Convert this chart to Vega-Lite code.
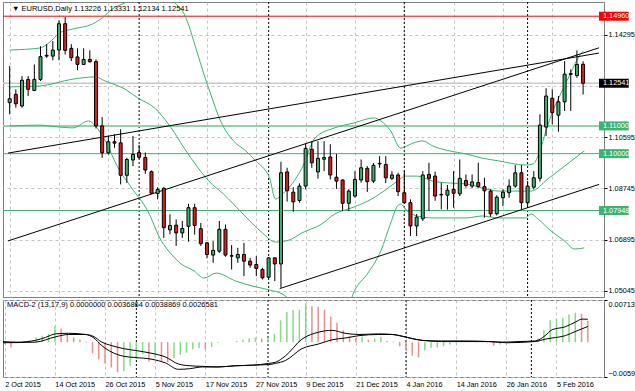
{
  "$schema": "https://vega.github.io/schema/vega-lite/v6.json",
  "background": "white",
  "padding": {"left": 0, "top": 1, "right": 0, "bottom": 0},
  "spacing": 1,
  "config": {
    "view": {"stroke": "#808080", "strokeWidth": 1},
    "font": "Liberation Sans",
    "axis": {"labelFont": "Liberation Sans", "labelFontSize": 7.3, "labelColor": "#000000", "gridColor": "#c4c4c4", "gridDash": [3, 3], "gridWidth": 1, "tickColor": "#000000", "title": null}
  },
  "datasets": {
    "candles": [
      {"i":0,"o":1.1184,"h":1.1316,"l":1.1142,"c":1.1198},
      {"i":1,"o":1.1214,"h":1.1232,"l":1.1166,"c":1.1180},
      {"i":2,"o":1.1172,"h":1.1280,"l":1.1166,"c":1.1265},
      {"i":3,"o":1.1268,"h":1.1280,"l":1.1208,"c":1.1232},
      {"i":4,"o":1.1228,"h":1.1322,"l":1.1226,"c":1.1268},
      {"i":5,"o":1.1268,"h":1.1388,"l":1.1262,"c":1.1350},
      {"i":6,"o":1.1352,"h":1.1395,"l":1.1346,"c":1.1355},
      {"i":7,"o":1.1352,"h":1.1406,"l":1.1337,"c":1.1374},
      {"i":8,"o":1.1374,"h":1.1481,"l":1.1337,"c":1.1469},
      {"i":9,"o":1.1469,"h":1.1493,"l":1.1358,"c":1.1373},
      {"i":10,"o":1.1380,"h":1.1395,"l":1.1334,"c":1.1346},
      {"i":11,"o":1.1349,"h":1.1380,"l":1.1301,"c":1.1322},
      {"i":12,"o":1.1322,"h":1.1380,"l":1.1320,"c":1.1340},
      {"i":13,"o":1.1340,"h":1.1373,"l":1.1328,"c":1.1332},
      {"i":14,"o":1.1332,"h":1.1340,"l":1.1091,"c":1.1100},
      {"i":15,"o":1.1100,"h":1.1132,"l":1.0985,"c":1.1003},
      {"i":16,"o":1.1003,"h":1.1064,"l":1.0997,"c":1.1043},
      {"i":17,"o":1.1043,"h":1.1070,"l":1.1021,"c":1.1038},
      {"i":18,"o":1.1039,"h":1.1088,"l":1.0889,"c":1.0922},
      {"i":19,"o":1.0922,"h":1.0985,"l":1.0895,"c":1.0979},
      {"i":20,"o":1.0977,"h":1.1064,"l":1.0955,"c":1.0997},
      {"i":21,"o":1.1004,"h":1.1032,"l":1.0982,"c":1.0987},
      {"i":22,"o":1.0986,"h":1.1004,"l":1.0927,"c":1.0941},
      {"i":23,"o":1.0935,"h":1.0939,"l":1.0856,"c":1.0857},
      {"i":24,"o":1.0856,"h":1.0879,"l":1.0835,"c":1.0871},
      {"i":25,"o":1.0875,"h":1.0879,"l":1.0696,"c":1.0733},
      {"i":26,"o":1.0725,"h":1.0781,"l":1.0709,"c":1.0741},
      {"i":27,"o":1.0742,"h":1.0763,"l":1.0667,"c":1.0714},
      {"i":28,"o":1.0714,"h":1.0757,"l":1.0696,"c":1.0730},
      {"i":29,"o":1.0738,"h":1.0819,"l":1.0682,"c":1.0805},
      {"i":30,"o":1.0805,"h":1.0819,"l":1.0708,"c":1.0741},
      {"i":31,"o":1.0729,"h":1.0750,"l":1.0667,"c":1.0675},
      {"i":32,"o":1.0678,"h":1.0681,"l":1.0622,"c":1.0636},
      {"i":33,"o":1.0634,"h":1.0684,"l":1.0606,"c":1.0651},
      {"i":34,"o":1.0648,"h":1.0757,"l":1.0642,"c":1.0727},
      {"i":35,"o":1.0727,"h":1.0744,"l":1.0628,"c":1.0634},
      {"i":36,"o":1.0630,"h":1.0670,"l":1.0582,"c":1.0632},
      {"i":37,"o":1.0624,"h":1.0660,"l":1.0606,"c":1.0636},
      {"i":38,"o":1.0636,"h":1.0678,"l":1.0558,"c":1.0612},
      {"i":39,"o":1.0612,"h":1.0624,"l":1.0588,"c":1.0598},
      {"i":40,"o":1.0600,"h":1.0630,"l":1.0558,"c":1.0586},
      {"i":41,"o":1.0582,"h":1.0588,"l":1.0546,"c":1.0552},
      {"i":42,"o":1.0554,"h":1.0626,"l":1.0550,"c":1.0624},
      {"i":43,"o":1.0624,"h":1.0626,"l":1.0540,"c":1.0602},
      {"i":44,"o":1.0602,"h":1.0971,"l":1.0516,"c":1.0931},
      {"i":45,"o":1.0934,"h":1.0949,"l":1.0827,"c":1.0866},
      {"i":46,"o":1.0861,"h":1.0879,"l":1.0790,"c":1.0826},
      {"i":47,"o":1.0831,"h":1.0893,"l":1.0823,"c":1.0883},
      {"i":48,"o":1.0883,"h":1.1036,"l":1.0871,"c":1.1019},
      {"i":49,"o":1.1016,"h":1.1045,"l":1.0949,"c":1.0967},
      {"i":50,"o":1.0934,"h":1.1045,"l":1.0910,"c":1.0983},
      {"i":51,"o":1.0980,"h":1.1045,"l":1.0937,"c":1.0986},
      {"i":52,"o":1.0988,"h":1.1034,"l":1.0907,"c":1.0923},
      {"i":53,"o":1.0915,"h":1.0999,"l":1.0873,"c":1.0901},
      {"i":54,"o":1.0905,"h":1.0907,"l":1.0793,"c":1.0821},
      {"i":55,"o":1.0821,"h":1.0872,"l":1.0793,"c":1.0865},
      {"i":56,"o":1.0847,"h":1.0937,"l":1.0841,"c":1.0907},
      {"i":57,"o":1.0905,"h":1.0979,"l":1.0895,"c":1.0949},
      {"i":58,"o":1.0947,"h":1.0955,"l":1.0862,"c":1.0899},
      {"i":59,"o":1.0901,"h":1.0966,"l":1.0894,"c":1.0958},
      {"i":60,"o":1.0963,"h":1.0991,"l":1.0949,"c":1.0965},
      {"i":61,"o":1.0961,"h":1.0991,"l":1.0894,"c":1.0913},
      {"i":62,"o":1.0911,"h":1.0937,"l":1.0905,"c":1.0923},
      {"i":63,"o":1.0923,"h":1.0931,"l":1.0847,"c":1.0863},
      {"i":64,"o":1.0859,"h":1.0937,"l":1.0821,"c":1.0823},
      {"i":65,"o":1.0823,"h":1.0835,"l":1.0703,"c":1.0739},
      {"i":66,"o":1.0739,"h":1.0782,"l":1.0703,"c":1.0771},
      {"i":67,"o":1.0765,"h":1.0937,"l":1.0757,"c":1.0923},
      {"i":68,"o":1.0925,"h":1.0967,"l":1.0793,"c":1.0911},
      {"i":69,"o":1.0919,"h":1.0935,"l":1.0830,"c":1.0847},
      {"i":70,"o":1.0851,"h":1.0895,"l":1.0799,"c":1.0853},
      {"i":71,"o":1.0850,"h":1.0887,"l":1.0798,"c":1.0868},
      {"i":72,"o":1.0871,"h":1.0937,"l":1.0805,"c":1.0857},
      {"i":73,"o":1.0855,"h":1.0979,"l":1.0847,"c":1.0911},
      {"i":74,"o":1.0903,"h":1.0925,"l":1.0877,"c":1.0885},
      {"i":75,"o":1.0883,"h":1.0925,"l":1.0876,"c":1.0898},
      {"i":76,"o":1.0896,"h":1.0967,"l":1.0877,"c":1.0881},
      {"i":77,"o":1.0881,"h":1.0913,"l":1.0769,"c":1.0866},
      {"i":78,"o":1.0865,"h":1.0872,"l":1.0772,"c":1.0783},
      {"i":79,"o":1.0783,"h":1.0850,"l":1.0777,"c":1.0843},
      {"i":80,"o":1.0841,"h":1.0871,"l":1.0811,"c":1.0861},
      {"i":81,"o":1.0859,"h":1.0907,"l":1.0841,"c":1.0883},
      {"i":82,"o":1.0883,"h":1.0959,"l":1.0877,"c":1.0931},
      {"i":83,"o":1.0931,"h":1.0959,"l":1.0799,"c":1.0823},
      {"i":84,"o":1.0823,"h":1.0901,"l":1.0805,"c":1.0883},
      {"i":85,"o":1.0879,"h":1.0937,"l":1.0871,"c":1.0913},
      {"i":86,"o":1.0911,"h":1.1142,"l":1.0899,"c":1.1103},
      {"i":87,"o":1.1096,"h":1.1236,"l":1.1064,"c":1.1208},
      {"i":88,"o":1.1200,"h":1.1232,"l":1.1106,"c":1.1148},
      {"i":89,"o":1.1139,"h":1.1208,"l":1.1079,"c":1.1187},
      {"i":90,"o":1.1187,"h":1.1334,"l":1.1154,"c":1.1287},
      {"i":91,"o":1.1286,"h":1.1304,"l":1.1154,"c":1.1289},
      {"i":92,"o":1.1282,"h":1.1373,"l":1.1274,"c":1.1322},
      {"i":93,"o":1.13226,"h":1.13331,"l":1.12134,"c":1.12541}
    ],
    "bands": [
      {"b":"u","i":0,"p":1.1374},{"b":"u","i":4.83,"p":1.1381},{"b":"u","i":7.07,"p":1.1414},{"b":"u","i":8.02,"p":1.1435},{"b":"u","i":10.26,"p":1.1450},{"b":"u","i":13.44,"p":1.1468},{"b":"u","i":15.04,"p":1.1490},{"b":"u","i":16.63,"p":1.1522},{"b":"u","i":18.7,"p":1.1544},{"b":"u","i":21.1,"p":1.157},{"b":"u","i":23.5,"p":1.158},{"b":"u","i":25.9,"p":1.156},{"b":"u","i":27.0,"p":1.1540},{"b":"u","i":28.3,"p":1.1504},{"b":"u","i":30.35,"p":1.1370},{"b":"u","i":31.5,"p":1.1287},{"b":"u","i":32.6,"p":1.1215},{"b":"u","i":34.2,"p":1.1118},{"b":"u","i":36.3,"p":1.1046},{"b":"u","i":38.3,"p":1.1010},{"b":"u","i":39.9,"p":1.0974},{"b":"u","i":42.15,"p":1.0912},{"b":"u","i":43.1,"p":1.0836},{"b":"u","i":44.2,"p":1.0854},{"b":"u","i":45.8,"p":1.0891},{"b":"u","i":47.4,"p":1.0948},{"b":"u","i":49.5,"p":1.1056},{"b":"u","i":52.7,"p":1.1093},{"b":"u","i":55.9,"p":1.1111},{"b":"u","i":59.06,"p":1.1129},{"b":"u","i":60.2,"p":1.1118},{"b":"u","i":61.8,"p":1.1082},{"b":"u","i":63.4,"p":1.1020},{"b":"u","i":65.4,"p":1.1038},{"b":"u","i":67.0,"p":1.1046},{"b":"u","i":68.6,"p":1.1028},{"b":"u","i":71.3,"p":1.1010},{"b":"u","i":74.05,"p":1.0999},{"b":"u","i":76.6,"p":1.0984},{"b":"u","i":79.3,"p":1.0974},{"b":"u","i":83.6,"p":1.0959},{"b":"u","i":84.9,"p":1.0963},{"b":"u","i":86.0,"p":1.1010},{"b":"u","i":86.97,"p":1.1082},{"b":"u","i":88.1,"p":1.1154},{"b":"u","i":89.2,"p":1.1208},{"b":"u","i":90.2,"p":1.1255},{"b":"u","i":91.3,"p":1.1306},{"b":"u","i":92.1,"p":1.1342},{"b":"u","i":93.0,"p":1.1370},
      {"b":"m","i":0,"p":1.1241},{"b":"m","i":4.83,"p":1.1244},{"b":"m","i":10.26,"p":1.1269},{"b":"m","i":13.9,"p":1.1277},{"b":"m","i":15.5,"p":1.1262},{"b":"m","i":18.7,"p":1.1233},{"b":"m","i":20.8,"p":1.1201},{"b":"m","i":23.5,"p":1.1165},{"b":"m","i":26.2,"p":1.1093},{"b":"m","i":28.3,"p":1.1020},{"b":"m","i":30.35,"p":1.0955},{"b":"m","i":32.3,"p":1.0901},{"b":"m","i":34.7,"p":1.0854},{"b":"m","i":37.85,"p":1.0782},{"b":"m","i":41.0,"p":1.0714},{"b":"m","i":43.1,"p":1.0681},{"b":"m","i":45.3,"p":1.0688},{"b":"m","i":47.4,"p":1.0714},{"b":"m","i":50.6,"p":1.0746},{"b":"m","i":52.7,"p":1.0782},{"b":"m","i":55.4,"p":1.0804},{"b":"m","i":58.1,"p":1.0829},{"b":"m","i":60.7,"p":1.0865},{"b":"m","i":62.9,"p":1.0901},{"b":"m","i":64.2,"p":1.0919},{"b":"m","i":66.1,"p":1.0919},{"b":"m","i":68.6,"p":1.0901},{"b":"m","i":71.3,"p":1.0894},{"b":"m","i":74.05,"p":1.0891},{"b":"m","i":76.6,"p":1.0876},{"b":"m","i":79.3,"p":1.0865},{"b":"m","i":82.0,"p":1.0865},{"b":"m","i":84.6,"p":1.0865},{"b":"m","i":87.3,"p":1.0909},{"b":"m","i":90.0,"p":1.0955},{"b":"m","i":93.2,"p":1.1010},
      {"b":"l","i":0,"p":1.1100},{"b":"l","i":4.83,"p":1.1103},{"b":"l","i":8.0,"p":1.1096},{"b":"l","i":10.26,"p":1.1093},{"b":"l","i":12.8,"p":1.1118},{"b":"l","i":13.9,"p":1.1100},{"b":"l","i":15.5,"p":1.1046},{"b":"l","i":17.6,"p":1.0948},{"b":"l","i":19.8,"p":1.0876},{"b":"l","i":22.4,"p":1.0793},{"b":"l","i":24.6,"p":1.0685},{"b":"l","i":26.2,"p":1.0638},{"b":"l","i":27.8,"p":1.0602},{"b":"l","i":29.9,"p":1.0577},{"b":"l","i":31.5,"p":1.0551},{"b":"l","i":33.5,"p":1.0569},{"b":"l","i":36.7,"p":1.0540},{"b":"l","i":39.4,"p":1.0522},{"b":"l","i":42.15,"p":1.0508},{"b":"l","i":44.2,"p":1.0494},{"b":"l","i":45.8,"p":1.0467},{"b":"l","i":50.6,"p":1.0396},{"b":"l","i":54.6,"p":1.0432},{"b":"l","i":55.9,"p":1.0504},{"b":"l","i":58.1,"p":1.0569},{"b":"l","i":60.2,"p":1.0649},{"b":"l","i":61.8,"p":1.0750},{"b":"l","i":62.9,"p":1.0811},{"b":"l","i":63.4,"p":1.0818},{"b":"l","i":64.5,"p":1.0793},{"b":"l","i":66.1,"p":1.0775},{"b":"l","i":68.6,"p":1.0768},{"b":"l","i":74.05,"p":1.0768},{"b":"l","i":76.6,"p":1.0775},{"b":"l","i":79.3,"p":1.0768},{"b":"l","i":83.6,"p":1.0768},{"b":"l","i":84.6,"p":1.0782},{"b":"l","i":85.7,"p":1.0764},{"b":"l","i":87.8,"p":1.0721},{"b":"l","i":90.0,"p":1.0685},{"b":"l","i":91.6,"p":1.0656},{"b":"l","i":93.2,"p":1.0660}
    ],
    "trend": [
      {"t":"a","i":-0.27,"p":1.1002},{"t":"a","i":95.58,"p":1.1363},
      {"t":"b","i":-0.27,"p":1.0685},{"t":"b","i":95.58,"p":1.1382},
      {"t":"c","i":43.8,"p":1.0513},{"t":"c","i":95.58,"p":1.0889}
    ],
    "levels": [
      {"p":1.1496,"k":"r"},{"p":1.12541,"k":"k"},{"p":1.11,"k":"g1"},{"p":1.10,"k":"g2"},{"p":1.07948,"k":"g2"}
    ],
    "seps": [{"i":21},{"i":42},{"i":64},{"i":84}],
    "hist": [
      {"i":0,"v":-0.0003},{"i":1,"v":-0.0009},{"i":2,"v":0.0000},{"i":3,"v":0.0001},{"i":4,"v":0.0003},{"i":5,"v":0.0008},{"i":6,"v":0.0011},{"i":7,"v":0.0014},{"i":8,"v":0.0027},{"i":9,"v":0.0023},
      {"i":10,"v":0.0014},{"i":11,"v":0.0008},{"i":12,"v":0.0004},{"i":13,"v":0.0001},{"i":14,"v":-0.0019},{"i":15,"v":-0.0029},{"i":16,"v":-0.0036},{"i":17,"v":-0.0043},{"i":18,"v":-0.0051},{"i":19,"v":-0.0049},
      {"i":20,"v":-0.0040},{"i":21,"v":-0.0029},{"i":22,"v":-0.0020},{"i":23,"v":-0.0033},{"i":24,"v":-0.0027},{"i":25,"v":-0.0032},{"i":26,"v":-0.0034},{"i":27,"v":-0.0027},{"i":28,"v":-0.0021},{"i":29,"v":-0.0018},
      {"i":30,"v":-0.0012},{"i":31,"v":-0.0010},{"i":32,"v":-0.0012},{"i":33,"v":-0.0008},{"i":34,"v":-0.0001},{"i":35,"v":0.0000},{"i":36,"v":0.0000},{"i":37,"v":0.0002},{"i":38,"v":0.0004},{"i":39,"v":0.0006},
      {"i":40,"v":0.0008},{"i":41,"v":0.0006},{"i":42,"v":0.0008},{"i":43,"v":0.0014},{"i":44,"v":0.0037},{"i":45,"v":0.0051},{"i":46,"v":0.0054},{"i":47,"v":0.0055},{"i":48,"v":0.0066},{"i":49,"v":0.0061},
      {"i":50,"v":0.0060},{"i":51,"v":0.0055},{"i":52,"v":0.0043},{"i":53,"v":0.0033},{"i":54,"v":0.0020},{"i":55,"v":0.0010},{"i":56,"v":0.0007},{"i":57,"v":0.0009},{"i":58,"v":0.0004},{"i":59,"v":0.0006},
      {"i":60,"v":0.0009},{"i":61,"v":0.0002},{"i":62,"v":0.0001},{"i":63,"v":-0.0007},{"i":64,"v":-0.0014},{"i":65,"v":-0.0023},{"i":66,"v":-0.0026},{"i":67,"v":-0.0014},{"i":68,"v":-0.0010},{"i":69,"v":-0.0009},
      {"i":70,"v":-0.0007},{"i":71,"v":-0.0004},{"i":72,"v":-0.0001},{"i":73,"v":0.0000},{"i":74,"v":0.0000},{"i":75,"v":0.0001},{"i":76,"v":0.0000},{"i":77,"v":-0.0001},{"i":78,"v":-0.0006},{"i":79,"v":-0.0004},
      {"i":80,"v":-0.0001},{"i":81,"v":0.0000},{"i":82,"v":0.0001},{"i":83,"v":0.0001},{"i":84,"v":0.0002},{"i":85,"v":0.0006},{"i":86,"v":0.0020},{"i":87,"v":0.0037},{"i":88,"v":0.0040},{"i":89,"v":0.0041},
      {"i":90,"v":0.0047},{"i":91,"v":0.0050},{"i":92,"v":0.0048},{"i":93,"v":0.0036864}
    ],
    "macd": [
      {"s":"f","i":-0.27,"v":0.0001},{"s":"f","i":2,"v":0.0000},{"s":"f","i":4.9,"v":0.0003},{"s":"f","i":6.5,"v":0.0008},{"s":"f","i":8.1,"v":0.0014},{"s":"f","i":10.2,"v":0.0015},{"s":"f","i":12.9,"v":0.0013},{"s":"f","i":14.1,"v":0.0008},{"s":"f","i":15.5,"v":-0.0006},{"s":"f","i":17.1,"v":-0.0017},{"s":"f","i":19,"v":-0.0024},{"s":"f","i":20.8,"v":-0.0026},{"s":"f","i":23.5,"v":-0.0029},{"s":"f","i":25.6,"v":-0.0035},{"s":"f","i":27.7,"v":-0.0046},{"s":"f","i":29.5,"v":-0.0045},{"s":"f","i":31.5,"v":-0.0042},{"s":"f","i":34,"v":-0.0042},{"s":"f","i":36.8,"v":-0.0040},{"s":"f","i":39.5,"v":-0.0039},{"s":"f","i":42.1,"v":-0.0036},{"s":"f","i":43.2,"v":-0.0034},{"s":"f","i":44.8,"v":-0.0023},{"s":"f","i":47.4,"v":0.0005},{"s":"f","i":50.1,"v":0.0017},{"s":"f","i":52.2,"v":0.0020},{"s":"f","i":54.3,"v":0.0015},{"s":"f","i":56.5,"v":0.0013},{"s":"f","i":59.6,"v":0.0014},{"s":"f","i":61.8,"v":0.0013},{"s":"f","i":63.4,"v":0.0010},{"s":"f","i":65,"v":0.0006},{"s":"f","i":66.6,"v":0.0003},{"s":"f","i":69.7,"v":0.0002},{"s":"f","i":74,"v":0.0002},{"s":"f","i":77.2,"v":0.0001},{"s":"f","i":79.3,"v":0.0000},{"s":"f","i":82,"v":0.0001},{"s":"f","i":84.6,"v":0.0002},{"s":"f","i":86.2,"v":0.0011},{"s":"f","i":87.3,"v":0.0021},{"s":"f","i":89.4,"v":0.0026},{"s":"f","i":91,"v":0.0034},{"s":"f","i":92.1,"v":0.0039},{"s":"f","i":93,"v":0.0038869},
      {"s":"s","i":-0.27,"v":-0.0001},{"s":"s","i":4.9,"v":0.0000},{"s":"s","i":8.1,"v":0.0009},{"s":"s","i":10.2,"v":0.0013},{"s":"s","i":12.9,"v":0.0013},{"s":"s","i":14.1,"v":0.0010},{"s":"s","i":15.5,"v":0.0000},{"s":"s","i":17.1,"v":-0.0006},{"s":"s","i":19,"v":-0.0011},{"s":"s","i":20.8,"v":-0.0014},{"s":"s","i":23.5,"v":-0.0019},{"s":"s","i":25.6,"v":-0.0025},{"s":"s","i":27.7,"v":-0.0037},{"s":"s","i":29.5,"v":-0.0040},{"s":"s","i":31.5,"v":-0.0041},{"s":"s","i":34,"v":-0.0042},{"s":"s","i":36.8,"v":-0.0040},{"s":"s","i":39.5,"v":-0.0039},{"s":"s","i":42.1,"v":-0.0038},{"s":"s","i":43.2,"v":-0.0036},{"s":"s","i":44.8,"v":-0.0031},{"s":"s","i":47.4,"v":-0.0011},{"s":"s","i":50.1,"v":-0.0003},{"s":"s","i":52.2,"v":0.0004},{"s":"s","i":54.3,"v":0.0007},{"s":"s","i":56.5,"v":0.0011},{"s":"s","i":59.6,"v":0.0013},{"s":"s","i":61.8,"v":0.0013},{"s":"s","i":63.4,"v":0.0010},{"s":"s","i":65,"v":0.0006},{"s":"s","i":66.6,"v":0.0003},{"s":"s","i":69.7,"v":0.0001},{"s":"s","i":77.2,"v":0.0001},{"s":"s","i":80,"v":-0.0001},{"s":"s","i":84.6,"v":0.0001},{"s":"s","i":86.2,"v":0.0005},{"s":"s","i":87.3,"v":0.0007},{"s":"s","i":89.4,"v":0.0011},{"s":"s","i":91,"v":0.0018},{"s":"s","i":93,"v":0.0026581}
    ]
  },
  "vconcat": [
    {
      "width": 601,
      "height": 295,
      "layer": [
        {
          "data": {"name": "seps"},
          "mark": {"type": "rule", "color": "#000000", "strokeDash": [2, 2], "strokeWidth": 1},
          "encoding": {
            "x": {"field": "i", "type": "quantitative", "scale": {"domain": [-0.27, 95.58], "nice": false, "zero": false},
                  "axis": {"values": [0,4,8,12,16,20,24,28,32,36,40,44,48,52,56,60,64,68,72,76,80,84,88,92], "labels": false, "ticks": false, "domain": false, "grid": true}}
          }
        },
        {
          "data": {"name": "levels"},
          "transform": [{"filter": "datum.k == 'k'"}],
          "mark": {"type": "rule", "color": "#c8c8c8", "strokeWidth": 1.5},
          "encoding": {
            "y": {"field": "p", "type": "quantitative", "scale": {"domain": [1.04827, 1.15473], "nice": false, "zero": false},
                  "axis": {"orient": "right", "values": [1.05045,1.0597,1.06895,1.0782,1.08745,1.0967,1.10595,1.1152,1.12445,1.1337,1.14295,1.1522], "labelExpr": "datum.value == 1.12445 ? '' : format(datum.value, '.5f')", "grid": true, "domain": false, "tickSize": 3, "labelPadding": 1}}
          }
        },
        {
          "data": {"name": "levels"},
          "transform": [{"filter": "datum.k == 'g1'"}],
          "mark": {"type": "rule", "color": "#8fd4a8", "strokeWidth": 2},
          "encoding": {"y": {"field": "p", "type": "quantitative"}}
        },
        {
          "data": {"name": "levels"},
          "transform": [{"filter": "datum.k == 'g2'"}],
          "mark": {"type": "rule", "color": "#3cb371", "strokeWidth": 1},
          "encoding": {"y": {"field": "p", "type": "quantitative"}}
        },
        {
          "data": {"name": "levels"},
          "transform": [{"filter": "datum.k == 'r'"}],
          "mark": {"type": "rule", "color": "#ff0000", "strokeWidth": 1},
          "encoding": {"y": {"field": "p", "type": "quantitative"}}
        },
        {
          "data": {"name": "bands"},
          "mark": {"type": "line", "color": "#3cb371", "strokeWidth": 1, "clip": true, "interpolate": "monotone"},
          "encoding": {
            "x": {"field": "i", "type": "quantitative"},
            "y": {"field": "p", "type": "quantitative"},
            "detail": {"field": "b"}
          }
        },
        {
          "data": {"name": "trend"},
          "mark": {"type": "line", "color": "#000000", "strokeWidth": 1, "clip": true},
          "encoding": {
            "x": {"field": "i", "type": "quantitative"},
            "y": {"field": "p", "type": "quantitative"},
            "detail": {"field": "t"}
          }
        },
        {
          "data": {"name": "candles"},
          "mark": {"type": "rule", "color": "#000000", "strokeWidth": 1},
          "encoding": {
            "x": {"field": "i", "type": "quantitative"},
            "y": {"field": "l", "type": "quantitative"},
            "y2": {"field": "h"}
          }
        },
        {
          "data": {"name": "candles"},
          "mark": {"type": "bar", "width": 3, "stroke": "#000000", "strokeWidth": 1},
          "encoding": {
            "x": {"field": "i", "type": "quantitative"},
            "y": {"field": "o", "type": "quantitative"},
            "y2": {"field": "c"},
            "color": {"condition": {"test": "datum.c >= datum.o", "value": "#3cb371"}, "value": "#dc1e1e"}
          }
        },
        {
          "data": {"name": "levels"},
          "mark": {"type": "rect", "clip": false, "yOffset": -4.5, "y2Offset": 4.5},
          "encoding": {
            "x": {"datum": 95.58},
            "x2": {"datum": 100.4},
            "y": {"field": "p", "type": "quantitative"},
            "y2": {"field": "p"},
            "color": {"field": "k", "type": "nominal", "legend": null, "scale": {"domain": ["r","k","g1","g2"], "range": ["#ff0000","#000000","#3cb371","#3cb371"]}}
          }
        },
        {
          "data": {"name": "levels"},
          "mark": {"type": "text", "clip": false, "align": "left", "baseline": "middle", "dx": 4, "fontSize": 7.3, "color": "#ffffff", "font": "Liberation Sans"},
          "encoding": {
            "x": {"datum": 95.58},
            "y": {"field": "p", "type": "quantitative"},
            "text": {"field": "p", "type": "quantitative", "format": ".5f"}
          }
        },
        {
          "data": {"values": [{"t": "▼ EURUSD,Daily 1.13226 1.13331 1.12134 1.12541"}]},
          "mark": {"type": "text", "align": "left", "baseline": "middle", "dx": 4, "dy": 7, "fontSize": 7.5, "color": "#000000", "font": "Liberation Sans"},
          "encoding": {
            "x": {"datum": -0.27},
            "y": {"datum": 1.15473},
            "text": {"field": "t"}
          }
        }
      ]
    },
    {
      "width": 601,
      "height": 77,
      "layer": [
        {
          "data": {"name": "seps"},
          "mark": {"type": "rule", "color": "#000000", "strokeDash": [2, 2], "strokeWidth": 1},
          "encoding": {
            "x": {"field": "i", "type": "quantitative", "scale": {"domain": [-0.27, 95.58], "nice": false, "zero": false},
                  "axis": {"values": [0,4,8,12,16,20,24,28,32,36,40,44,48,52,56,60,64,68,72,76,80,84,88,92],
                           "labelExpr": "datum.value % 8 == 0 ? ['2 Oct 2015','14 Oct 2015','26 Oct 2015','5 Nov 2015','17 Nov 2015','27 Nov 2015','9 Dec 2015','21 Dec 2015','4 Jan 2016','14 Jan 2016','26 Jan 2016','5 Feb 2016'][datum.value / 8] : ''",
                           "labelAlign": "left", "labelBaseline": "top", "labelPadding": 3, "labelFlush": false, "ticks": false, "domain": false, "grid": true, "labelOverlap": false, "labelBound": false}}
          }
        },
        {
          "data": {"name": "hist"},
          "transform": [{"window": [{"op": "lag", "field": "v", "as": "pv"}], "sort": [{"field": "i"}]}],
          "mark": {"type": "rule", "strokeWidth": 1.5},
          "encoding": {
            "x": {"field": "i", "type": "quantitative"},
            "y": {"field": "v", "type": "quantitative", "scale": {"domain": [-0.005903, 0.007139], "nice": false, "zero": false},
                  "axis": {"orient": "right", "values": [-0.005903, 0, 0.007139], "labelExpr": "datum.value == 0 ? '0.00' : format(datum.value, '.6f')", "labelFlush": true, "grid": true, "domain": false, "tickSize": 3, "labelPadding": 1}},
            "y2": {"datum": 0},
            "color": {"condition": {"test": "datum.pv == null || datum.v >= datum.pv", "value": "#86d986"}, "value": "#f08c8c"}
          }
        },
        {
          "data": {"name": "macd"},
          "mark": {"type": "line", "color": "#000000", "strokeWidth": 1, "interpolate": "monotone"},
          "encoding": {
            "x": {"field": "i", "type": "quantitative"},
            "y": {"field": "v", "type": "quantitative"},
            "detail": {"field": "s"}
          }
        },
        {
          "data": {"values": [{"t": "MACD-2 (13,17,9) 0.0000000 0.0036864 0.0038869 0.0026581"}]},
          "mark": {"type": "text", "align": "left", "baseline": "middle", "dx": 4, "dy": 5, "fontSize": 7.5, "color": "#000000", "font": "Liberation Sans"},
          "encoding": {
            "x": {"datum": -0.27},
            "y": {"datum": 0.007139},
            "text": {"field": "t"}
          }
        }
      ]
    }
  ]
}
